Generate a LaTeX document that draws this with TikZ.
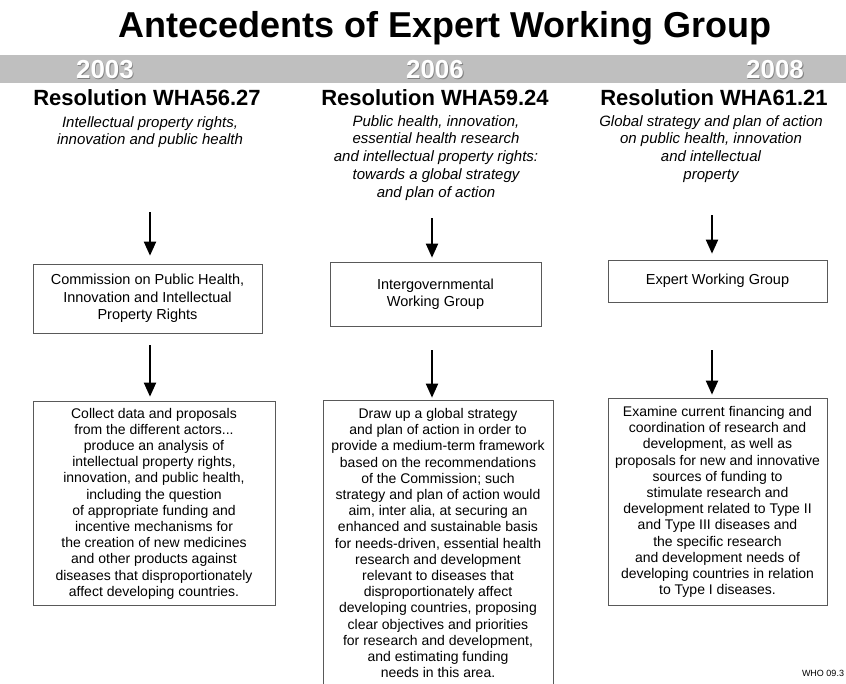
\documentclass[tikz,border=0pt]{standalone}
\usepackage{fontspec}
\setmainfont{Liberation Sans}
\usetikzlibrary{arrows.meta}
\begin{document}
\begin{tikzpicture}[x=1pt,y=-1pt,
  bodytext/.style={font=\fontsize{14}{16.2}\selectfont, align=center, inner sep=0pt},
  smallbox/.style={draw=black!65, line width=0.7pt, font=\fontsize{14.5}{17.5}\selectfont, align=center, inner sep=0pt},
  bigbox/.style={draw=black!65, line width=0.7pt, inner sep=0pt},
  heading/.style={font=\fontsize{22}{26}\selectfont\bfseries},
  subtitle/.style={font=\fontsize{15}{17.8}\selectfont\itshape, align=center, inner sep=0pt, anchor=north},
  yeartext/.style={font=\fontsize{26}{28}\selectfont\bfseries, text=white},
  yearshadow/.style={font=\fontsize{26}{28}\selectfont\bfseries, text=black!50},
  arr/.style={line width=2pt, -{Triangle[width=12pt,length=14pt]}}
]
\useasboundingbox (0,0) rectangle (846,683);
\clip (0,0) rectangle (846,683);
\fill[white] (0,0) rectangle (846,683);
% title
\node[font=\fontsize{36}{40}\selectfont\bfseries] (title) at (445,28) {Antecedents of Expert Working Group};
% band
\node[fill=gray!50, minimum width=846pt, minimum height=28pt, inner sep=0pt] (band) at (423,69) {};
\node[yearshadow] (y1s) at (105.8,70.8) {2003};
\node[yeartext] (y1) at (105,70) {2003};
\node[yearshadow] (y2s) at (435.8,70.8) {2006};
\node[yeartext] (y2) at (435,70) {2006};
\node[yearshadow] (y3s) at (775.8,70.8) {2008};
\node[yeartext] (y3) at (775,70) {2008};
% headings
\node[heading] (h1) at (147,98) {Resolution WHA56.27};
\node[heading] (h2) at (435,98) {Resolution WHA59.24};
\node[heading] (h3) at (714,98) {Resolution WHA61.21};
% subtitles
\node[subtitle] (s1) at (150,116) {Intellectual property rights,\\innovation and public health};
\node[subtitle] (s2) at (436,115) {Public health, innovation,\\essential health research\\and intellectual property rights:\\towards a global strategy\\and plan of action};
\node[subtitle] (s3) at (711,115) {Global strategy and plan of action\\on public health, innovation\\and intellectual\\property};
% small boxes
\node[smallbox, minimum width=229pt, minimum height=69pt] (b1) at (147.5,298.5) {Commission on Public Health,\\Innovation and Intellectual\\Property Rights};
\node[smallbox, minimum width=211pt, minimum height=64pt] (b2) at (435.5,294) {Intergovernmental\\Working Group};
\node[smallbox, minimum width=219pt, minimum height=42pt] (b3) at (717.5,281) {Expert Working Group};
% big boxes
\node[bigbox, minimum width=242pt, minimum height=204pt] (B1) at (154,503) {};
\node[bigbox, minimum width=230pt, minimum height=300pt] (B2) at (438,550) {};
\node[bigbox, minimum width=219pt, minimum height=207pt] (B3) at (717.5,501.5) {};
\node[bodytext] (t1) at (154,503.5) {Collect data and proposals\\from the different actors...\\produce an analysis of\\intellectual property rights,\\innovation, and public health,\\including the question\\of appropriate funding and\\incentive mechanisms for\\the creation of new medicines\\and other products against\\diseases that disproportionately\\affect developing countries.};
\node[bodytext] (t2) at (438,543) {Draw up a global strategy\\and plan of action in order to\\provide a medium-term framework\\based on the recommendations\\of the Commission; such\\strategy and plan of action would\\aim, inter alia, at securing an\\enhanced and sustainable basis\\for needs-driven, essential health\\research and development\\relevant to diseases that\\disproportionately affect\\developing countries, proposing\\clear objectives and priorities\\for research and development,\\and estimating funding\\needs in this area.};
\node[bodytext] (t3) at (717.5,502) {Examine current financing and\\coordination of research and\\development, as well as\\proposals for new and innovative\\sources of funding to\\stimulate research and\\development related to Type II\\and Type III diseases and\\the specific research\\and development needs of\\developing countries in relation\\to Type I diseases.};
% arrows
\coordinate (a1) at (150,212);
\coordinate (a2) at (432,218);
\coordinate (a3) at (712,215);
\draw[arr, shorten >=8pt] (a1) -- (a1 |- b1.north);
\draw[arr, shorten >=4pt] (a2) -- (a2 |- b2.north);
\draw[arr, shorten >=6pt] (a3) -- (a3 |- b3.north);
\draw[arr, shorten <=12pt, shorten >=4pt] (a1 |- b1.south) -- (a1 |- B1.north);
\draw[arr, shorten <=24pt, shorten >=2pt] (a2 |- b2.south) -- (a2 |- B2.north);
\draw[arr, shorten <=48pt, shorten >=3pt] (a3 |- b3.south) -- (a3 |- B3.north);
% footer
\node[font=\fontsize{9}{11}\selectfont] (who) at (823,673) {WHO 09.3};
\end{tikzpicture}
\end{document}
